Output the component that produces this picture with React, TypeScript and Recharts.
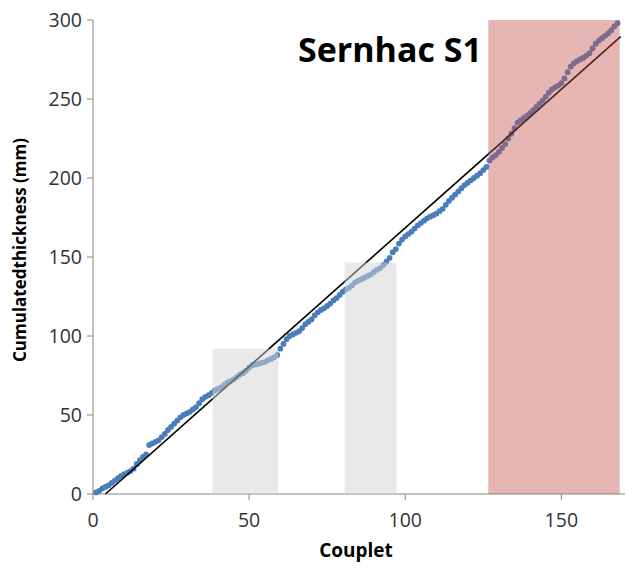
import { ScatterChart, Scatter, XAxis, YAxis, ReferenceArea, ReferenceLine } from "recharts";

// cumulated thickness (mm) for couplets 1..168
const thickness = [
  1, 2, 3.5, 4.5, 5.5, 7, 8.5, 10, 11.5, 12.5, 13.5, 14.5, 16, 19, 21.5, 23.5, 25, 31, 32, 33,
  34, 36, 38, 40.5, 42.5, 44.5, 46.5, 48.5, 50, 51, 52, 53.5, 55, 57.5, 60, 61.5, 62.5, 64, 65.5, 66.5,
  67.5, 69, 70.5, 71.5, 72.5, 74, 75.5, 76.5, 78, 80, 81.5, 82, 82.5, 83, 83.5, 84.5, 85.5, 86.5, 88, 92,
  95, 98, 100, 101, 102, 103, 105, 107.5, 109, 110.5, 113, 115, 116.5, 117.5, 119, 120.5, 122.5, 124, 126, 128,
  129.5, 130.5, 132, 134, 135, 136, 137, 138, 139, 140.5, 142, 143, 145, 147, 149.5, 153, 155, 158.5, 161, 163,
  164.5, 166, 168, 170, 171.5, 173, 174.5, 175.5, 176.5, 177.5, 179, 180.5, 183, 185.5, 187.5, 189.5, 191.5, 193.5, 195.5, 197,
  198.5, 200, 201.5, 203, 205, 207, 211, 213, 214.5, 216.5, 219, 221.5, 225, 228, 231.5, 235, 236.5, 238, 239.5, 241,
  243, 245, 247, 249, 251.5, 254, 256, 257.5, 258.5, 260, 263, 267, 270.5, 272.5, 274, 275, 276, 277.5, 279, 282,
  285, 287, 288.5, 290, 291.5, 293.5, 296, 298,
];

const xTicks = [0, 50, 100, 150];
const yTicks = [0, 50, 100, 150, 200, 250, 300];

// shaded couplet intervals
const zoneStart = [38.3, 80.6, 126.6];
const zoneEnd = [59.3, 97.2, 168.7];
const zoneTop = [92, 146.5, 300];

// linear trend
const trendX = [4, 169];
const trendY = [0, 289.5];

const data = thickness.map((t, i) => ({ couplet: i + 1, thickness: t }));

const font = "'Open Sans', sans-serif";
const axisColor = "#868686";
const tickStyle = { fill: "#333", fontSize: 19.5, fontFamily: font };

const Dot = (props: any) => <circle cx={props.cx} cy={props.cy} r={2.9} fill="#4A7EBB" />;

export default function App() {
  return (
    <div style={{ width: 625, height: 568, marginTop: -8, overflow: "hidden", position: "relative" }}>
      <ScatterChart width={660} height={568} margin={{ top: 20, right: 13, left: 0, bottom: 14 }}>
        <XAxis
          type="number"
          dataKey="couplet"
          domain={[0, 180]}
          ticks={xTicks}
          height={60}
          stroke={axisColor}
          tickSize={6}
          tickMargin={13}
          tick={tickStyle}
        />
        <YAxis
          type="number"
          dataKey="thickness"
          domain={[0, 300]}
          ticks={yTicks}
          width={85}
          stroke={axisColor}
          tickSize={6}
          tickMargin={5}
          tick={tickStyle}
        />
        <Scatter data={data} shape={Dot} isAnimationActive={false} />
        <ReferenceLine
          segment={[
            { x: trendX[0], y: trendY[0] },
            { x: trendX[1], y: trendY[1] },
          ]}
          stroke="#000"
          strokeWidth={1.6}
          zIndex={650}
        />
        {zoneStart.map((s, i) => (
          <ReferenceArea
            key={i}
            x1={s}
            x2={zoneEnd[i]}
            y1={0}
            y2={zoneTop[i]}
            fill={i === 2 ? "#c0504d" : "#d4d4d4"}
            fillOpacity={i === 2 ? 0.42 : 0.5}
            stroke="none"
            zIndex={700}
          />
        ))}
      </ScatterChart>
      <svg
        width={625}
        height={568}
        style={{ position: "absolute", left: 0, top: 0, pointerEvents: "none" }}
      >
        <text x={290} y={62} fontFamily={font} fontWeight="bold" fontSize={34} fill="#000">
          Sernhac S1
        </text>
        <text x={348} y={557} textAnchor="middle" fontFamily={font} fontWeight="bold" fontSize={19} fill="#000">
          Couplet
        </text>
        <text
          x={0}
          y={0}
          transform="translate(18, 250) rotate(-90)"
          textAnchor="middle"
          fontFamily={font}
          fontWeight="bold"
          fontSize={17}
          fill="#000"
        >
          Cumulatedthickness (mm)
        </text>
      </svg>
    </div>
  );
}
